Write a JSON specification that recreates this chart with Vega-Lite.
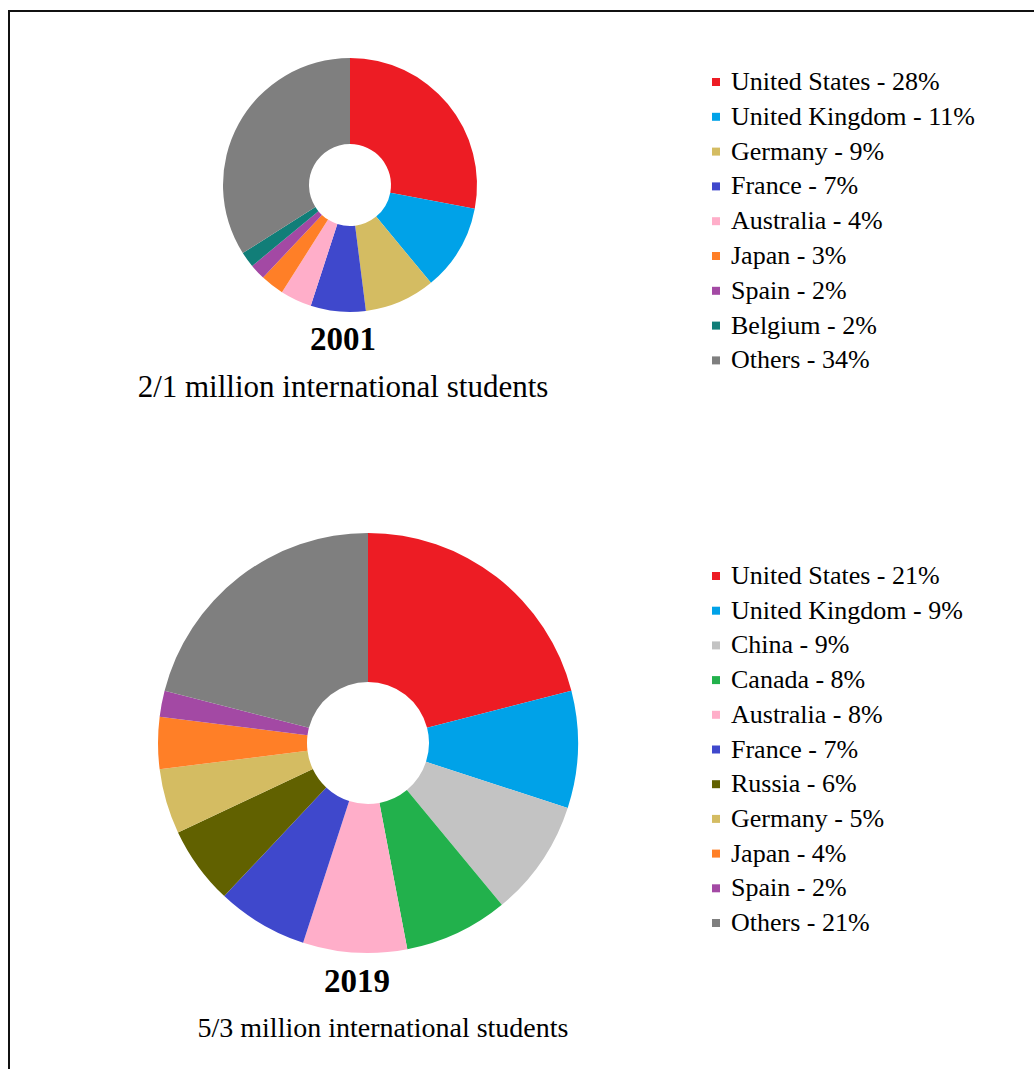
{
  "$schema": "https://vega.github.io/schema/vega-lite/v6.json",
  "width": 1040,
  "height": 1070,
  "autosize": "none",
  "padding": {"left": 9, "top": 11, "right": 0, "bottom": 0},
  "background": "white",
  "config": {
    "view": {"stroke": "#111111", "strokeWidth": 2},
    "font": "Liberation Serif, Times New Roman, DejaVu Serif, serif",
    "text": {"font": "Liberation Serif, Times New Roman, DejaVu Serif, serif"},
    "legend": {"labelFont": "Liberation Serif, Times New Roman, DejaVu Serif, serif"}
  },
  "datasets": {
    "shares": [
      {"year": "2001", "country": "United States", "pct": 28, "order": 1},
      {"year": "2001", "country": "United Kingdom", "pct": 11, "order": 2},
      {"year": "2001", "country": "Germany", "pct": 9, "order": 3},
      {"year": "2001", "country": "France", "pct": 7, "order": 4},
      {"year": "2001", "country": "Australia", "pct": 4, "order": 5},
      {"year": "2001", "country": "Japan", "pct": 3, "order": 6},
      {"year": "2001", "country": "Spain", "pct": 2, "order": 7},
      {"year": "2001", "country": "Belgium", "pct": 2, "order": 8},
      {"year": "2001", "country": "Others", "pct": 34, "order": 9},
      {"year": "2019", "country": "United States", "pct": 21, "order": 1},
      {"year": "2019", "country": "United Kingdom", "pct": 9, "order": 2},
      {"year": "2019", "country": "China", "pct": 9, "order": 3},
      {"year": "2019", "country": "Canada", "pct": 8, "order": 4},
      {"year": "2019", "country": "Australia", "pct": 8, "order": 5},
      {"year": "2019", "country": "France", "pct": 7, "order": 6},
      {"year": "2019", "country": "Russia", "pct": 6, "order": 7},
      {"year": "2019", "country": "Germany", "pct": 5, "order": 8},
      {"year": "2019", "country": "Japan", "pct": 4, "order": 9},
      {"year": "2019", "country": "Spain", "pct": 2, "order": 10},
      {"year": "2019", "country": "Others", "pct": 21, "order": 11}
    ],
    "captions": [
      {"year": "2001", "kind": "year", "text": "2001"},
      {"year": "2001", "kind": "sub", "text": "2/1 million international students"},
      {"year": "2019", "kind": "year", "text": "2019"},
      {"year": "2019", "kind": "sub", "text": "5/3 million international students"}
    ]
  },
  "encoding": {
    "x": {"field": "year", "type": "nominal", "scale": {"type": "point", "domain": ["2001", "2019"], "range": [341, 359], "padding": 0}, "axis": null},
    "y": {"field": "year", "type": "nominal", "scale": {"type": "point", "domain": ["2001", "2019"], "range": [174, 732], "padding": 0}, "axis": null}
  },
  "layer": [
    {
      "data": {"name": "shares"},
      "transform": [
        {"filter": "datum.year == '2001'"},
        {"calculate": "datum.country + ' - ' + datum.pct + '%'", "as": "label"}
      ],
      "mark": {"type": "arc", "radius": 127, "innerRadius": 41},
      "encoding": {
        "theta": {"field": "pct", "type": "quantitative", "stack": true},
        "order": {"field": "order", "type": "quantitative"},
        "color": {
          "field": "label",
          "type": "nominal",
          "scale": {
            "domain": ["United States - 28%", "United Kingdom - 11%", "Germany - 9%", "France - 7%", "Australia - 4%", "Japan - 3%", "Spain - 2%", "Belgium - 2%", "Others - 34%"],
            "range": ["#ed1c24", "#00a2e8", "#d4bc62", "#3f48cc", "#ffaec9", "#ff7f27", "#a349a4", "#117e78", "#7f7f7f"]
          },
          "legend": {
            "title": null, "orient": "none", "legendX": 694, "legendY": 58,
            "symbolType": "square", "symbolSize": 64, "symbolStrokeWidth": 0,
            "labelFont": "Liberation Serif, Times New Roman, DejaVu Serif, serif", "labelFontSize": 26, "labelColor": "#000000",
            "labelLimit": 400, "rowPadding": 8.8, "labelOffset": 2, "padding": 0
          }
        }
      }
    },
    {
      "data": {"name": "shares"},
      "transform": [
        {"filter": "datum.year == '2019'"},
        {"calculate": "datum.country + ' - ' + datum.pct + '%'", "as": "label"}
      ],
      "mark": {"type": "arc", "radius": 210, "innerRadius": 61},
      "encoding": {
        "theta": {"field": "pct", "type": "quantitative", "stack": true},
        "order": {"field": "order", "type": "quantitative"},
        "color": {
          "field": "label",
          "type": "nominal",
          "scale": {
            "domain": ["United States - 21%", "United Kingdom - 9%", "China - 9%", "Canada - 8%", "Australia - 8%", "France - 7%", "Russia - 6%", "Germany - 5%", "Japan - 4%", "Spain - 2%", "Others - 21%"],
            "range": ["#ed1c24", "#00a2e8", "#c3c3c3", "#22b14c", "#ffaec9", "#3f48cc", "#616100", "#d4bc62", "#ff7f27", "#a349a4", "#7f7f7f"]
          },
          "legend": {
            "title": null, "orient": "none", "legendX": 694, "legendY": 552,
            "symbolType": "square", "symbolSize": 64, "symbolStrokeWidth": 0,
            "labelFont": "Liberation Serif, Times New Roman, DejaVu Serif, serif", "labelFontSize": 26, "labelColor": "#000000",
            "labelLimit": 400, "rowPadding": 8.7, "labelOffset": 2, "padding": 0
          }
        }
      }
    },
    {
      "data": {"name": "captions"},
      "transform": [{"filter": "datum.year == '2001' && datum.kind == 'year'"}],
      "mark": {"type": "text", "font": "Liberation Serif, Times New Roman, DejaVu Serif, serif", "fontWeight": "bold", "fontSize": 33, "dx": -7, "dy": 165, "baseline": "alphabetic", "align": "center", "color": "#000000"},
      "encoding": {"text": {"field": "text"}}
    },
    {
      "data": {"name": "captions"},
      "transform": [{"filter": "datum.year == '2001' && datum.kind == 'sub'"}],
      "mark": {"type": "text", "font": "Liberation Serif, Times New Roman, DejaVu Serif, serif", "fontSize": 31, "dx": -7, "dy": 212, "baseline": "alphabetic", "align": "center", "color": "#000000"},
      "encoding": {"text": {"field": "text"}}
    },
    {
      "data": {"name": "captions"},
      "transform": [{"filter": "datum.year == '2019' && datum.kind == 'year'"}],
      "mark": {"type": "text", "font": "Liberation Serif, Times New Roman, DejaVu Serif, serif", "fontWeight": "bold", "fontSize": 33, "dx": -11, "dy": 249, "baseline": "alphabetic", "align": "center", "color": "#000000"},
      "encoding": {"text": {"field": "text"}}
    },
    {
      "data": {"name": "captions"},
      "transform": [{"filter": "datum.year == '2019' && datum.kind == 'sub'"}],
      "mark": {"type": "text", "font": "Liberation Serif, Times New Roman, DejaVu Serif, serif", "fontSize": 28, "dx": 15, "dy": 294, "baseline": "alphabetic", "align": "center", "color": "#000000"},
      "encoding": {"text": {"field": "text"}}
    }
  ],
  "resolve": {"scale": {"color": "independent"}, "legend": {"color": "independent"}}
}
